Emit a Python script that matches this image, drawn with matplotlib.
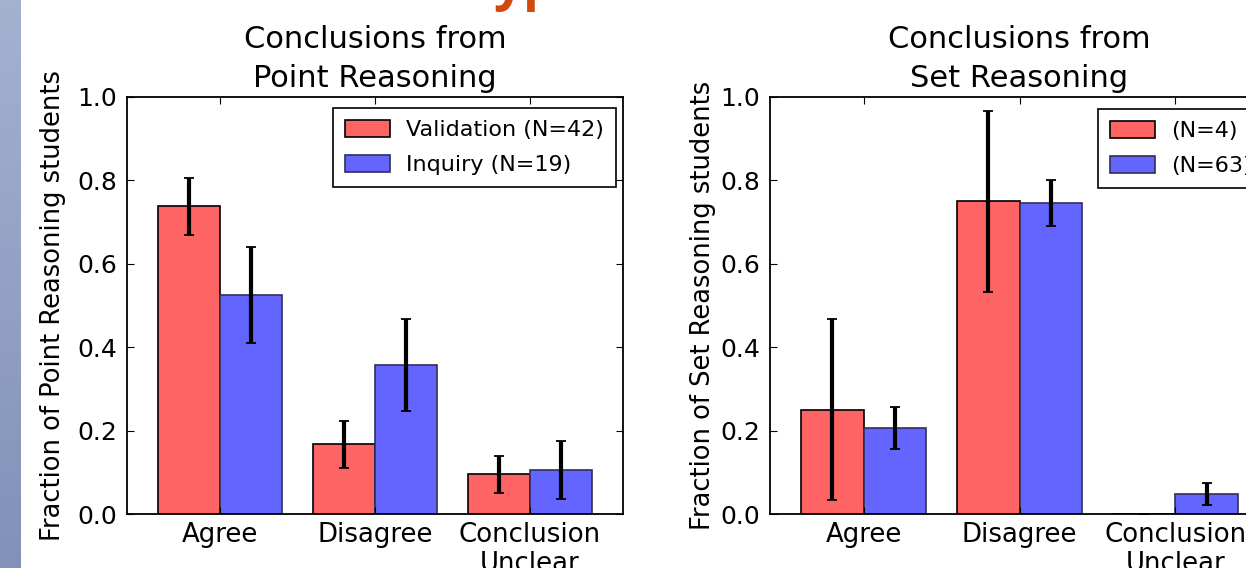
import numpy as np
import matplotlib
matplotlib.use("Agg")
import matplotlib.pyplot as plt
from matplotlib import colors as mc

categories = ["Agree", "Disagree", "Conclusion\nUnclear"]

# left panel: point reasoning
point_labels = ["Validation (N=42)", "Inquiry (N=19)"]
point_val = [0.738, 0.167, 0.095]
point_val_err = [0.068, 0.057, 0.045]
point_inq = [0.526, 0.358, 0.105]
point_inq_err = [0.115, 0.110, 0.070]

# right panel: set reasoning
set_labels = ["(N=4)", "(N=63)"]
set_val = [0.25, 0.75, 0.0]
set_val_err = [0.217, 0.217, 0.0]
set_inq = [0.206, 0.746, 0.048]
set_inq_err = [0.051, 0.055, 0.027]

W, H = 1246, 568
red = "#FF6464"
blue = "#6464FF"
width = 0.4

fig = plt.figure(figsize=(W / 100, H / 100), dpi=100)
fig.patch.set_facecolor("white")

#slide side strip
strip = fig.add_axes([0, 0, 21 / W, 1])
grad = np.linspace(0, 1, 256).reshape(-1, 1)
cm = mc.LinearSegmentedColormap.from_list("strip", ["#A4B2D0", "#8191B8"])
strip.imshow(grad, aspect="auto", cmap=cm)
strip.set_axis_off()

# bit of the slide heading that sticks into the picture
fig.text(493 / W, 1 + 1 / H, "yp", fontsize=38, fontweight="bold",
         color="#D2480F", family="Open Sans", va="baseline", ha="left")


def panel(left_px, width_px, a, a_err, b, b_err, labels, title, ylabel, leg_xy, lpad):
    ax = fig.add_axes([left_px / W, (H - 514) / H, width_px / W, 417 / H])
    idx = np.arange(len(categories))
    ekw = dict(ecolor="black", elinewidth=3, capsize=3.8, capthick=1.3)
    ax.bar(idx, a, width, align="edge", color=red, edgecolor="black",
           linewidth=1.2, yerr=a_err, error_kw=ekw, label=labels[0])
    ax.bar(idx + width, b, width, align="edge", color=blue, edgecolor="#30305a",
           linewidth=1.2, yerr=b_err, error_kw=ekw, label=labels[1])
    ax.set_xlim(-0.2, 3.0)
    ax.set_ylim(0, 1.0)
    ax.set_xticks(idx + width)
    ax.set_xticklabels(categories, fontsize=18.7, linespacing=1.12)
    ax.set_yticks(np.arange(0, 1.01, 0.2))
    ax.set_yticklabels(["%.1f" % v for v in np.arange(0, 1.01, 0.2)], fontsize=18)
    ax.tick_params(direction="in", length=5, width=0.8, top=True, right=True, pad=7)
    ax.tick_params(axis="x", pad=6)
    for s in ax.spines.values():
        s.set_linewidth(1.3)
    ax.set_title(title, fontsize=22, linespacing=1.45, pad=7)
    ax.set_ylabel(ylabel, fontsize=18.5, labelpad=lpad)
    leg = ax.legend(loc="upper left", bbox_to_anchor=(leg_xy[0] / W, 1 - leg_xy[1] / H),
                    bbox_transform=fig.transFigure, borderaxespad=0, fontsize=16,
                    fancybox=False, framealpha=1, edgecolor="black",
                    handlelength=2.0, handleheight=0.8, handletextpad=0.75,
                    borderpad=0.55, labelspacing=0.64)
    leg.get_frame().set_linewidth(1.2)
    return ax


panel(127, 496, point_val, point_val_err, point_inq, point_inq_err, point_labels,
      "Conclusions from\nPoint Reasoning", "Fraction of Point Reasoning students",
      (333, 108), 8)
panel(770, 499, set_val, set_val_err, set_inq, set_inq_err, set_labels,
      "Conclusions from\nSet Reasoning", "Fraction of Set Reasoning students",
      (1098, 109), 3)

fig.savefig("out.png", dpi=100)
